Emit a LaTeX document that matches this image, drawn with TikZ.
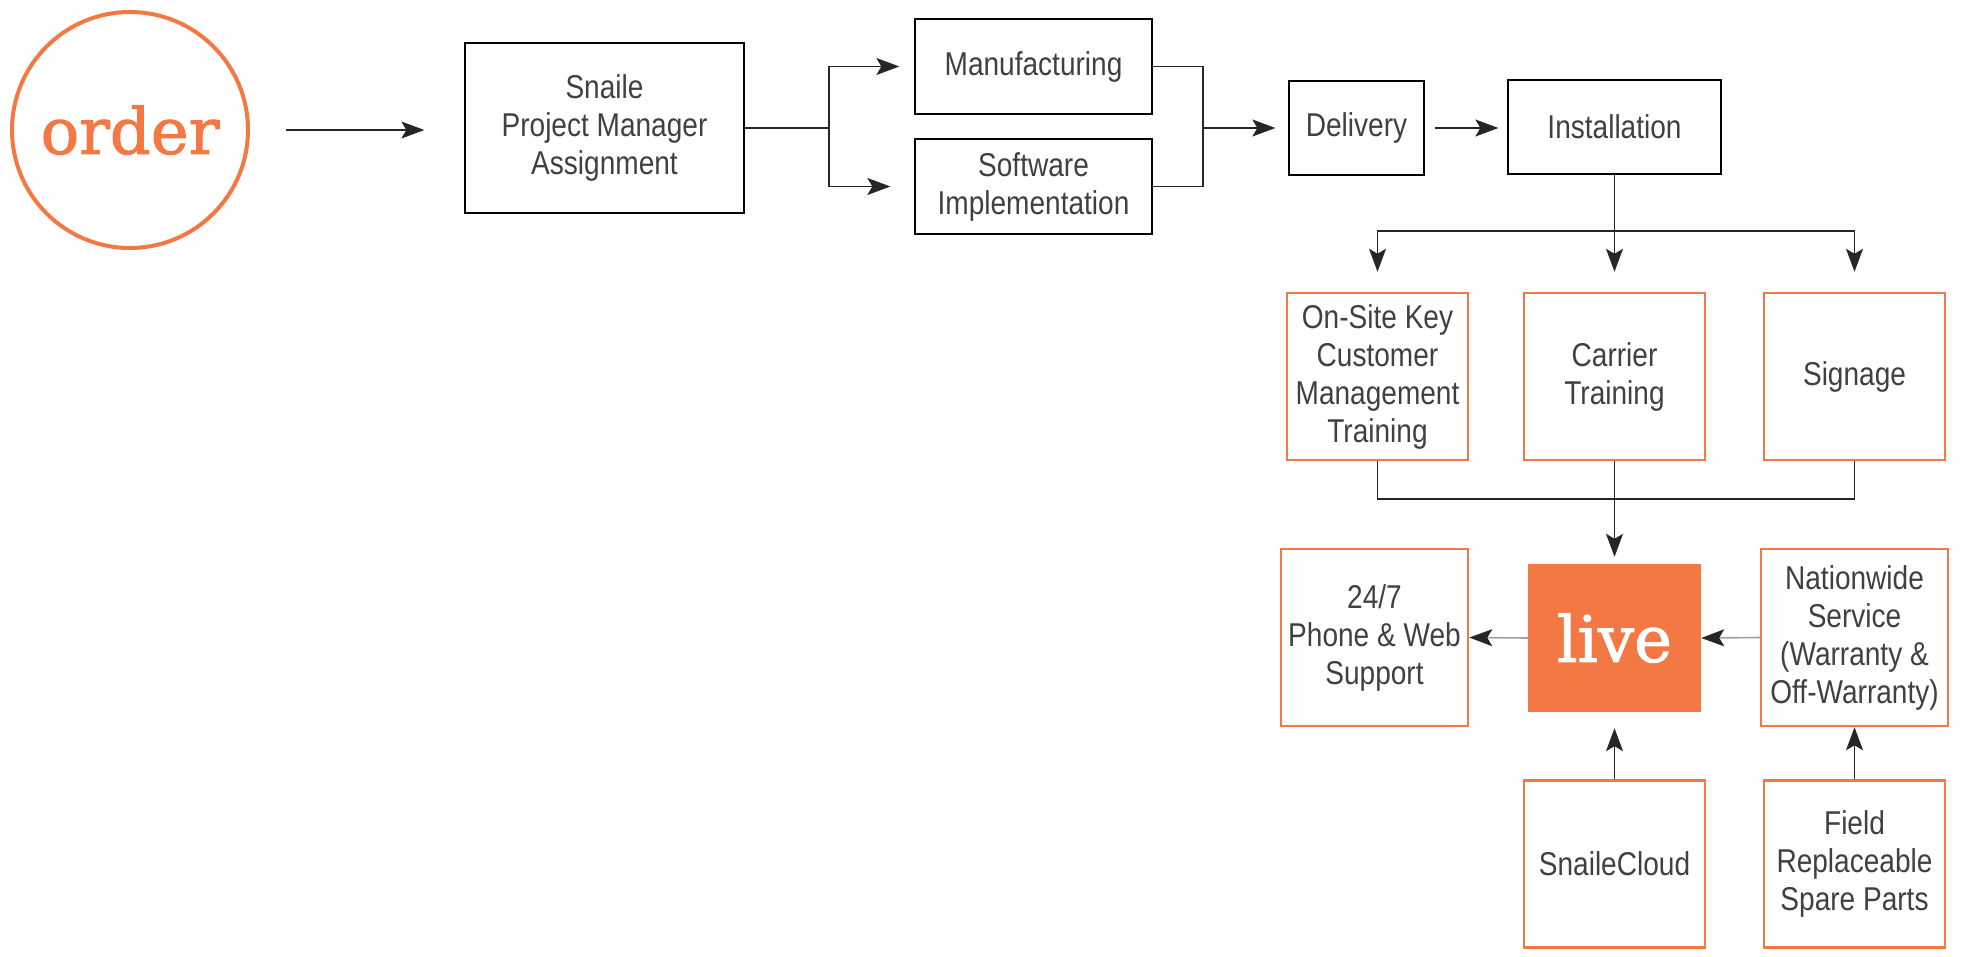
\documentclass[tikz,border=0pt]{standalone}
\usepackage{fontspec}
\setmainfont{Liberation Sans}[FakeStretch=0.85]
\newfontfamily\slabfont{DejaVu Serif}[FakeBold=1.5]
\usepackage{xcolor}
\usetikzlibrary{arrows.meta, positioning, calc}
\definecolor{snaileorange}{HTML}{F37843}
\definecolor{textgray}{HTML}{404040}
\definecolor{linegray}{HTML}{262626}

\begin{document}
\begin{tikzpicture}[
    x=1pt, y=-1pt,
    >={Stealth[length=23pt, width=17pt, inset=5pt]},
    font=\fontsize{33}{38}\selectfont,
    process/.style={rectangle, draw=black, line width=1.3pt, text=textgray, align=center, inner sep=2pt},
    service/.style={rectangle, draw=snaileorange, line width=2.5pt, text=textgray, align=center, inner sep=2pt, minimum width=181pt, minimum height=167pt},
    arrow/.style={->, line width=1.2pt, draw=linegray},
    softarrow/.style={-{Stealth[length=23pt, width=17pt, inset=5pt, color=linegray]}, line width=1.6pt, draw=gray!75},
    link/.style={line width=1.2pt, draw=linegray}
]
\useasboundingbox (0,0) rectangle (1967,956);

% 起点
\node[circle, draw=snaileorange, line width=4pt, minimum size=236pt, text=snaileorange, font=\slabfont\fontsize{64}{64}\selectfont] (order) at (130,130) {order};

% 第一行 - 流程
\node[process, minimum width=279pt, minimum height=170pt] (pm) at (604.5,128) {Snaile\\Project Manager\\Assignment};
\node[process, minimum width=237pt, minimum height=95pt] (manuf) at (1033.5,66.5) {Manufacturing};
\node[process, minimum width=237pt, minimum height=95pt] (soft) at (1033.5,186.5) {Software\\Implementation};
\node[process, minimum width=135pt, minimum height=94pt] (delivery) at (1356.5,128) {Delivery};
\node[process, minimum width=213pt, minimum height=94pt] (install) at (1614.5,127) {Installation};

% 第二行 - 培训
\node[service] (onsite) at (1377.5,376.5) {On-Site Key\\Customer\\Management\\Training};
\node[service] (carrier) at (1614.5,376.5) {Carrier\\Training};
\node[service] (signage) at (1854.5,376.5) {Signage};

% 第三行 - 上线
\node[service, minimum width=187pt, minimum height=177pt] (support) at (1374.5,637.5) {24/7\\Phone \& Web\\Support};
\node[rectangle, fill=snaileorange, minimum width=173pt, minimum height=148pt, text=white, font=\slabfont\fontsize{64}{64}\selectfont] (live) at (1614.5,638) {live};
\node[service, minimum width=187pt, minimum height=177pt] (nation) at (1854.5,637.5) {Nationwide\\Service\\(Warranty \&\\Off-Warranty)};

% 第四行
\node[service] (cloud) at (1614.5,864) {SnaileCloud};
\node[service] (field) at (1854.5,864) {Field\\Replaceable\\Spare Parts};

% 辅助点
\coordinate (split) at (829,128);
\coordinate (merge) at (1203,128);
\coordinate (fork) at (1614.5,231);
\coordinate (join) at (1614.5,499);

% 连接线
\draw[arrow, shorten <=36pt, shorten >=40pt] (order.east) -- (order.east -| pm.west);

\draw[link] (pm.east) -- (split);
\draw[arrow, shorten >=15pt] (split) |- (manuf.west);
\draw[arrow, shorten >=24pt] (split) |- (soft.west);

\draw[link] (manuf.east) -| (merge);
\draw[link] (soft.east) -| (merge);
\draw[arrow, shorten >=13pt] (merge) -- (delivery.west);
\draw[arrow, shorten <=10pt, shorten >=9pt] (delivery.east) -- (delivery.east -| install.west);

\draw[arrow, shorten >=20pt] (install.south) -- (carrier.north);
\draw[arrow, shorten >=20pt] (fork) -| (onsite.north);
\draw[arrow, shorten >=20pt] (fork) -| (signage.north);

\draw[link] (onsite.south) |- (join) -| (signage.south);
\draw[arrow, shorten >=7pt] (carrier.south) -- (live.north);

\draw[softarrow] (live.west) -- (support.east);
\draw[softarrow] (nation.west) -- (live.east);
\draw[arrow, shorten >=16pt] (cloud.north) -- (live.south);
\draw[arrow] (field.north) -- (nation.south);

\end{tikzpicture}
\end{document}
